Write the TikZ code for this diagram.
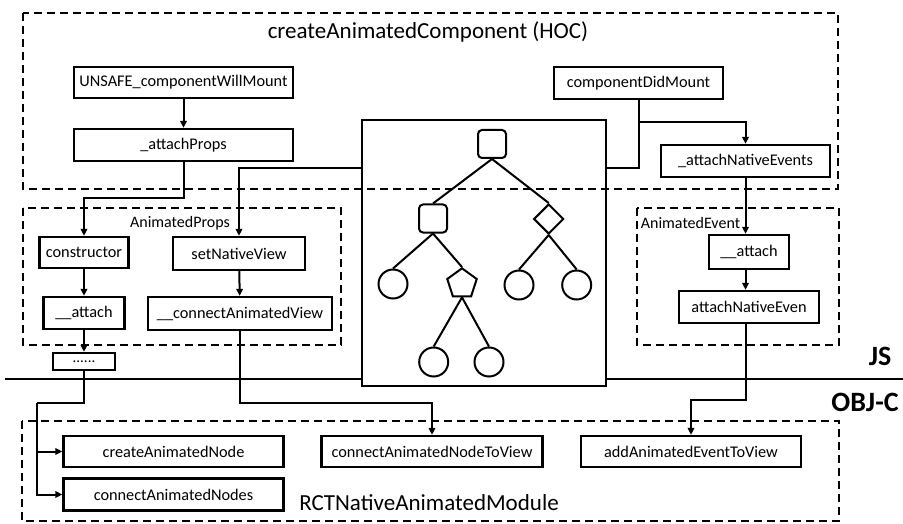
\documentclass[tikz,border=0pt]{standalone}
\usepackage{fontspec}
\setmainfont{Carlito}
\usetikzlibrary{arrows.meta,shapes.geometric}

\begin{document}
\begin{tikzpicture}[x=1pt,y=-1pt,>={Triangle[length=7pt,width=6.5pt]},line width=2pt,
  fn/.style={draw,line width=2.3pt,inner sep=0pt,font=\fontsize{16.3}{19}\selectfont},
  grp/.style={draw,line width=2pt,dash pattern=on 8pt off 5pt},
  tag/.style={font=\fontsize{16}{19}\selectfont},
  big/.style={font=\fontsize{23}{27}\selectfont},
  side/.style={font=\fontsize{28}{32}\selectfont\bfseries},
  sq/.style={draw,rounded corners=4pt,minimum size=28pt,inner sep=0pt},
  leaf/.style={draw,circle,minimum size=29pt,inner sep=0pt}]
\useasboundingbox (0,0) rectangle (903,524);
% groups
\draw[grp] (23,13) rectangle (838,189);
\draw[grp] (23,208) rectangle (341,345);
\draw[grp] (637,208) rectangle (839,345);
\draw[grp] (22,421) rectangle (839,521);
\node[big] (hoclabel) at (428,32) {createAnimatedComponent (HOC)};
\node[tag] (propslabel) at (180,223) {AnimatedProps};
\node[tag] (eventlabel) at (690.5,223) {AnimatedEvent};
\node[big] (modlabel) at (429,503) {RCTNativeAnimatedModule};
\node[side] (js) at (880,356) {JS};
\node[side] (objc) at (865,402) {OBJ-C};
% JS side
\node[fn,minimum width=219pt,minimum height=31pt] (ucwm) at (183.5,82.5) {UNSAFE\_componentWillMount};
\node[fn,minimum width=219pt,minimum height=32pt] (attachprops) at (183.5,145) {\_attachProps};
\node[fn,minimum width=169pt,minimum height=32pt] (cdm) at (638.5,83) {componentDidMount};
\node[fn,minimum width=169pt,minimum height=32pt] (attachnative) at (745.5,161) {\_attachNativeEvents};
\node[fn,minimum width=89pt,minimum height=31pt] (ctor) at (84,252.5) {constructor};
\node[fn,minimum width=81pt,minimum height=32pt] (attach) at (84,313) {\_\_attach};
\node[fn,minimum width=132pt,minimum height=33pt] (setview) at (239,253.5) {setNativeView};
\node[fn,minimum width=184pt,minimum height=33pt] (connview) at (240,313.5) {\_\_connectAnimatedView};
\node[fn,minimum width=62pt,minimum height=17pt,font=\fontsize{15}{15}\selectfont] (dots) at (84,361.5) {......};
\node[fn,minimum width=80pt,minimum height=34pt] (evattach) at (749,252) {\_\_attach};
\node[fn,minimum width=140pt,minimum height=32pt] (evnative) at (749,307) {attachNativeEven};
% native side
\node[fn,minimum width=220pt,minimum height=31pt] (createnode) at (173.5,451.5) {createAnimatedNode};
\node[fn,minimum width=220pt,minimum height=32pt] (connnodes) at (173.5,494.5) {connectAnimatedNodes};
\node[fn,minimum width=221pt,minimum height=31pt] (nodetoview) at (432,451.5) {connectAnimatedNodeToView};
\node[fn,minimum width=220pt,minimum height=31pt] (addevent) at (691,451.5) {addAnimatedEventToView};
% tree
\node[draw,line width=2.2pt,minimum width=244pt,minimum height=266pt] (tree) at (484,253) {};
\node[sq] (root) at (492,144) {};
\node[sq] (lsq) at (433,218.5) {};
\node[draw,diamond,minimum size=30pt,inner sep=0pt] (dia) at (548.7,219) {};
\node[leaf] (c1) at (393,284) {};
\node[draw,regular polygon,regular polygon sides=5,minimum size=31pt,inner sep=0pt] (pent) at (462,283.8) {};
\node[leaf] (c3) at (519,285) {};
\node[leaf] (c4) at (576.7,285) {};
\node[leaf] (c5) at (433.7,362) {};
\node[leaf] (c6) at (489,362) {};
\draw (root.south) -- (lsq.north);
\draw (root.south) -- (dia.north);
\draw (lsq.south) -- (c1.north);
\draw (lsq.south) -- (pent.north);
\draw (dia.south) -- (c3.north);
\draw (dia.south) -- (c4.north);
\draw (pent.south) -- (c5.north);
\draw (pent.south) -- (c6.north);
% connectors
\coordinate (propturn) at (84,198);
\coordinate (fork) at (37,403);
\coordinate (tl) at (362,168);
\coordinate (tr) at (606,168);
\coordinate (cdmfork) at (638.5,122);
\coordinate (evturn) at (745.5,400);
\coordinate (viewturn) at (240,403);
\coordinate (jsl) at (5,379);
\coordinate (jsr) at (903,379);
\draw[->] (ucwm) -- (attachprops);
\draw[->] (attachprops.south) |- (propturn) -- (ctor.north);
\draw[->] (ctor) -- (attach);
\draw[->] (attach) -- (dots);
\draw (dots.south) |- (fork);
\draw[->] (fork) |- (createnode.west);
\draw[->] (fork) |- (connnodes.west);
\draw[->] (tl) -| (setview.north);
\draw[->] (setview) -- (connview);
\draw[->] (connview.south) -- (viewturn) -| (nodetoview.north);
\draw (cdm.south) |- (tr);
\draw[->] (cdmfork) -| (attachnative.north);
\draw[->] (attachnative.south) -- (attachnative.south |- evattach.north);
\draw[->] (attachnative.south |- evattach.south) -- (attachnative.south |- evnative.north);
\draw[->] (attachnative.south |- evnative.south) -- (evturn) -| (addevent.north);
\draw (jsl) -- (tree.west |- jsl);
\draw (tree.east |- jsr) -- (jsr);
\end{tikzpicture}
\end{document}
